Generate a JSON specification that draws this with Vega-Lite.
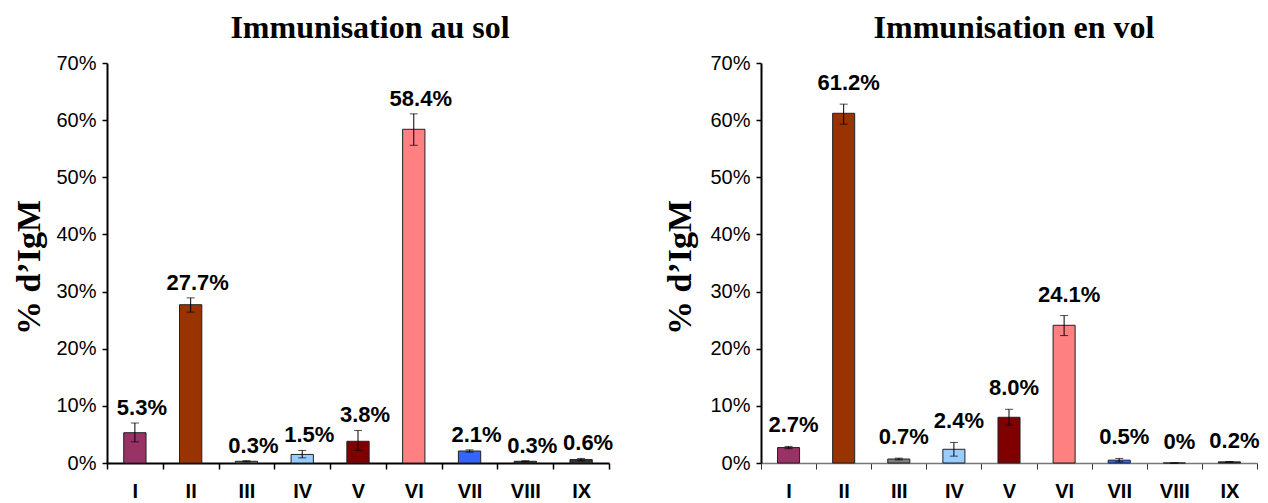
{
  "$schema": "https://vega.github.io/schema/vega-lite/v6.json",
  "padding": {"left": 12, "top": 12, "right": 4, "bottom": 0},
  "autosize": {"type": "pad"},
  "background": "white",
  "spacing": 49,
  "bounds": "full",
  "config": {
    "view": {"stroke": null},
    "axis": {"grid": false, "domainColor": "black", "tickColor": "black", "labelColor": "black", "titleColor": "black"},
    "text": {"font": "Liberation Sans"}
  },
  "datasets": {
    "sol": [
      {"group": "I", "value": 5.3, "lo": 3.7, "hi": 7.0, "label": "5.3%"},
      {"group": "II", "value": 27.7, "lo": 26.4, "hi": 28.9, "label": "27.7%"},
      {"group": "III", "value": 0.3, "lo": 0.2, "hi": 0.4, "label": "0.3%"},
      {"group": "IV", "value": 1.5, "lo": 0.9, "hi": 2.2, "label": "1.5%"},
      {"group": "V", "value": 3.8, "lo": 2.2, "hi": 5.7, "label": "3.8%"},
      {"group": "VI", "value": 58.4, "lo": 55.6, "hi": 61.1, "label": "58.4%"},
      {"group": "VII", "value": 2.1, "lo": 1.9, "hi": 2.3, "label": "2.1%"},
      {"group": "VIII", "value": 0.3, "lo": 0.2, "hi": 0.4, "label": "0.3%"},
      {"group": "IX", "value": 0.6, "lo": 0.4, "hi": 0.8, "label": "0.6%"}
    ],
    "vol": [
      {"group": "I", "value": 2.7, "lo": 2.5, "hi": 2.9, "label": "2.7%"},
      {"group": "II", "value": 61.2, "lo": 59.3, "hi": 62.8, "label": "61.2%"},
      {"group": "III", "value": 0.7, "lo": 0.55, "hi": 0.85, "label": "0.7%"},
      {"group": "IV", "value": 2.4, "lo": 1.2, "hi": 3.6, "label": "2.4%"},
      {"group": "V", "value": 8.0, "lo": 6.6, "hi": 9.4, "label": "8.0%"},
      {"group": "VI", "value": 24.1, "lo": 22.3, "hi": 25.8, "label": "24.1%"},
      {"group": "VII", "value": 0.5, "lo": 0.2, "hi": 0.8, "label": "0.5%"},
      {"group": "VIII", "value": 0.0, "lo": 0.0, "hi": 0.0, "label": "0%"},
      {"group": "IX", "value": 0.2, "lo": 0.15, "hi": 0.25, "label": "0.2%"}
    ]
  },
  "hconcat": [
    {
      "width": 502,
      "height": 400,
      "data": {"name": "sol"},
      "title": {"text": "Immunisation au sol", "font": "Liberation Serif", "fontSize": 32, "fontWeight": "bold", "color": "black", "anchor": "middle", "baseline": "bottom", "frame": "group", "offset": -24, "dx": 12},
      "encoding": {
        "x": {
          "field": "group", "type": "nominal",
          "sort": ["I", "II", "III", "IV", "V", "VI", "VII", "VIII", "IX"],
          "scale": {"paddingInner": 0, "paddingOuter": 0},
          "axis": {"title": null, "labelAngle": 0, "labelFont": "Liberation Sans", "labelFontSize": 20, "labelFontWeight": "bold", "labelPadding": 12, "tickBand": "extent", "tickSize": 6, "domainWidth": 2, "tickWidth": 1.5}
        }
      },
      "layer": [
        {
          "mark": {"type": "bar", "width": {"band": 0.4}, "stroke": "#222222", "strokeWidth": 1},
          "encoding": {
            "y": {
              "field": "value", "type": "quantitative",
              "scale": {"domain": [0, 70]},
              "axis": {"title": "% d’IgM", "values": [0, 10, 20, 30, 40, 50, 60, 70], "labelExpr": "datum.value + '%'", "labelFont": "Liberation Sans", "labelFontSize": 20, "labelPadding": 6, "tickSize": 5, "domainWidth": 2, "tickWidth": 1.5, "titleFont": "Liberation Serif", "titleFontSize": 34, "titleFontWeight": "bold", "titleX": -78, "titleY": 204, "titleAngle": -90, "titleBaseline": "middle", "titleAlign": "center"}
            },
            "fill": {
              "field": "group", "type": "nominal", "legend": null,
              "scale": {"domain": ["I", "II", "III", "IV", "V", "VI", "VII", "VIII", "IX"], "range": ["#993366", "#993300", "#808080", "#99CCFF", "#800000", "#FF8080", "#3366FF", "#333333", "#333333"]}
            }
          }
        },
        {
          "mark": {"type": "rule", "color": "black", "strokeWidth": 1},
          "encoding": {"y": {"field": "lo", "type": "quantitative", "title": "% d’IgM"}, "y2": {"field": "hi"}}
        },
        {
          "mark": {"type": "tick", "size": 8, "thickness": 1, "color": "black", "orient": "horizontal"},
          "encoding": {"y": {"field": "lo", "type": "quantitative", "title": "% d’IgM"}}
        },
        {
          "mark": {"type": "tick", "size": 8, "thickness": 1, "color": "black", "orient": "horizontal"},
          "encoding": {"y": {"field": "hi", "type": "quantitative", "title": "% d’IgM"}}
        },
        {
          "mark": {"type": "text", "font": "Liberation Sans", "fontSize": 22, "fontWeight": "bold", "color": "black", "baseline": "alphabetic", "dy": -8, "dx": 7},
          "encoding": {"y": {"field": "hi", "type": "quantitative", "title": "% d’IgM"}, "text": {"field": "label"}}
        }
      ]
    },
    {
      "width": 496,
      "height": 400,
      "data": {"name": "vol"},
      "title": {"text": "Immunisation en vol", "font": "Liberation Serif", "fontSize": 32, "fontWeight": "bold", "color": "black", "anchor": "middle", "baseline": "bottom", "frame": "group", "offset": -24, "dx": 5},
      "encoding": {
        "x": {
          "field": "group", "type": "nominal",
          "sort": ["I", "II", "III", "IV", "V", "VI", "VII", "VIII", "IX"],
          "scale": {"paddingInner": 0, "paddingOuter": 0},
          "axis": {"title": null, "labelAngle": 0, "labelFont": "Liberation Sans", "labelFontSize": 20, "labelFontWeight": "bold", "labelPadding": 12, "tickBand": "extent", "tickSize": 6, "domainWidth": 1.5, "domainColor": "#777777", "tickWidth": 1, "tickColor": "#333333"}
        }
      },
      "layer": [
        {
          "mark": {"type": "bar", "width": {"band": 0.4}, "stroke": "#222222", "strokeWidth": 1},
          "encoding": {
            "y": {
              "field": "value", "type": "quantitative",
              "scale": {"domain": [0, 70]},
              "axis": {"title": "% d’IgM", "values": [0, 10, 20, 30, 40, 50, 60, 70], "labelExpr": "datum.value + '%'", "labelFont": "Liberation Sans", "labelFontSize": 20, "labelPadding": 6, "tickSize": 5, "domainWidth": 2, "tickWidth": 1.5, "titleFont": "Liberation Serif", "titleFontSize": 34, "titleFontWeight": "bold", "titleX": -81, "titleY": 204, "titleAngle": -90, "titleBaseline": "middle", "titleAlign": "center"}
            },
            "fill": {
              "field": "group", "type": "nominal", "legend": null,
              "scale": {"domain": ["I", "II", "III", "IV", "V", "VI", "VII", "VIII", "IX"], "range": ["#993366", "#993300", "#808080", "#99CCFF", "#800000", "#FF8080", "#3366FF", "#333333", "#333333"]}
            }
          }
        },
        {
          "mark": {"type": "rule", "color": "black", "strokeWidth": 1},
          "encoding": {"y": {"field": "lo", "type": "quantitative", "title": "% d’IgM"}, "y2": {"field": "hi"}}
        },
        {
          "mark": {"type": "tick", "size": 8, "thickness": 1, "color": "black", "orient": "horizontal"},
          "encoding": {"y": {"field": "lo", "type": "quantitative", "title": "% d’IgM"}}
        },
        {
          "mark": {"type": "tick", "size": 8, "thickness": 1, "color": "black", "orient": "horizontal"},
          "encoding": {"y": {"field": "hi", "type": "quantitative", "title": "% d’IgM"}}
        },
        {
          "mark": {"type": "text", "font": "Liberation Sans", "fontSize": 22, "fontWeight": "bold", "color": "black", "baseline": "alphabetic", "dy": -14, "dx": 5},
          "encoding": {"y": {"field": "hi", "type": "quantitative", "title": "% d’IgM"}, "text": {"field": "label"}}
        }
      ]
    }
  ]
}
